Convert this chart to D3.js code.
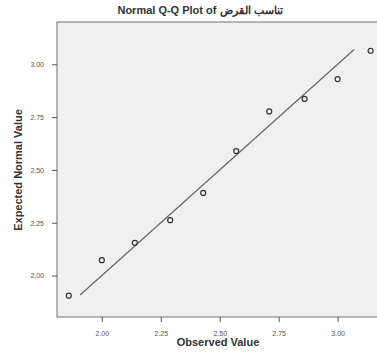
<!DOCTYPE html>
<html>
<head>
<meta charset="utf-8">
<script src="https://cdn.jsdelivr.net/npm/d3@7"></script>
<style>
body { margin: 0; background: white; }
.axis path { display: none; }
.axis line { stroke: #555; }
.axis text { font-family: Arial, "Liberation Sans", sans-serif; font-size: 7px; fill: #555; }
.lbl { font-family: Arial, "Liberation Sans", sans-serif; font-size: 11px; font-weight: bold; fill: #333; }
</style>
</head>
<body>
<script>

const titleText = "Normal Q-Q Plot of تناسب القرض";
const observed = [1.86, 2.00, 2.14, 2.29, 2.43, 2.57, 2.71, 2.86, 3.00, 3.14];
const expected = [1.905, 2.073, 2.155, 2.262, 2.391, 2.589, 2.777, 2.836, 2.930, 3.064];
const lineEnds = [1.908, 3.07];
const xTicks = [2.00, 2.25, 2.50, 2.75, 3.00];
const yTicks = [2.00, 2.25, 2.50, 2.75, 3.00];

const W = 377, H = 352;
const margin = {top: 22, right: 0, bottom: 35, left: 57};
const width = W - margin.left - margin.right;
const height = H - margin.top - margin.bottom;

const svg = d3.select("body").append("svg")
  .attr("width", W)
  .attr("height", H);

const g = svg.append("g").attr("transform", `translate(${margin.left}, ${margin.top})`);

const xScale = d3.scaleLinear().domain([1.81, 3.167]).range([0, width]);
const yScale = d3.scaleLinear().domain([1.804, 3.20]).range([height, 0]);

g.append("rect")
  .attr("width", width + 2)
  .attr("height", height)
  .attr("fill", "#f0f0f0")
  .attr("stroke", "#888")
  .attr("stroke-width", 1.2);

g.append("g")
  .attr("class", "axis")
  .attr("transform", `translate(0, ${height})`)
  .call(d3.axisBottom(xScale).tickValues(xTicks).tickFormat(d3.format(".2f")).tickSize(5).tickPadding(9));

g.append("g")
  .attr("class", "axis")
  .call(d3.axisLeft(yScale).tickValues(yTicks).tickFormat(d3.format(".2f")).tickSize(5).tickPadding(8));

// reference line
g.append("line")
  .attr("x1", xScale(lineEnds[0])).attr("y1", yScale(lineEnds[0]))
  .attr("x2", xScale(lineEnds[1])).attr("y2", yScale(lineEnds[1]))
  .attr("stroke", "#666")
  .attr("stroke-width", 1.2);

g.selectAll("circle.pt")
  .data(observed)
  .enter().append("circle")
  .attr("class", "pt")
  .attr("cx", d => xScale(d))
  .attr("cy", (d, i) => yScale(expected[i]))
  .attr("r", 2.5)
  .attr("fill", "none")
  .attr("stroke", "#333")
  .attr("stroke-width", 1.2);

svg.append("text")
  .attr("class", "lbl")
  .attr("x", 200).attr("y", 14)
  .attr("text-anchor", "middle")
  .attr("direction", "ltr")
  .style("unicode-bidi", "plaintext")
  .text(titleText);

svg.append("text")
  .attr("class", "lbl")
  .attr("x", 218).attr("y", 346)
  .attr("text-anchor", "middle")
  .text("Observed Value");

svg.append("text")
  .attr("class", "lbl")
  .attr("transform", "translate(22, 170) rotate(-90)")
  .attr("text-anchor", "middle")
  .text("Expected Normal Value");

</script>
</body>
</html>
